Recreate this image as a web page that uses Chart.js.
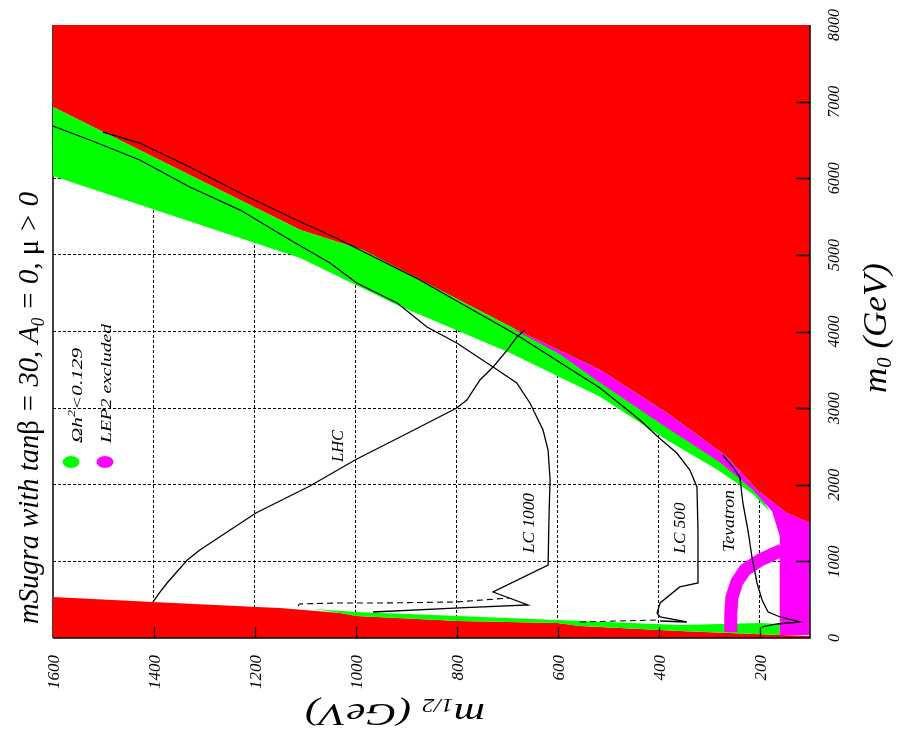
<!DOCTYPE html>
<html>
<head>
<meta charset="utf-8">
<script src="https://cdn.jsdelivr.net/npm/chart.js@4.4.0/dist/chart.umd.min.js"></script>
<style>
  html, body { margin: 0; padding: 0; background: #fff; }
  #wrap { width: 907px; height: 739px; }
</style>
</head>
<body>
<div id="wrap"><canvas id="plot" width="907" height="739"></canvas></div>
<script>
// axes: m1/2 (GeV) runs right-to-left along the bottom, m0 (GeV) up the right side
const xTickLabels = [1600, 1400, 1200, 1000, 800, 600, 400, 200];
const yTickLabels = [0, 1000, 2000, 3000, 4000, 5000, 6000, 7000, 8000];
const xGridLines = [1400, 1200, 1000, 800, 600, 400, 200];
const yGridLines = [1000, 2000, 3000, 4000, 5000, 6000, 7000];

// all curves below are [m1/2, m0] pairs in GeV
// no EWSB region edge (red, upper)
const noEwsbEdge = [[1600, 6930], [1110, 5324], [986, 5063], [681, 4019], [516, 3497],
  [383, 2936], [264, 2362], [205, 1931], [146, 1631], [100, 1500]];
// stau LSP region edge (red, lower)
const stauEdge = [[1600, 535], [1402, 470], [1196, 405], [1150, 392], [1031, 326], [998, 287],
  [797, 222], [600, 196], [556, 157], [358, 91], [160, 39], [100, 26]];
// lower edge of the Ωh² band along the focus-point region
const relicLowerEdge = [[1600, 6029], [1110, 4959], [918, 4346], [694, 3719], [516, 3150],
  [383, 2580], [284, 2200], [213, 1880], [179, 1640]];
// upper edge of the Ωh² strip above the stau region
const relicStripTop = [[1085, 378], [998, 339], [797, 287], [600, 235], [358, 170], [199, 196], [160, 183]];
// inner edge of the LEP2 excluded band
const lepInnerEdge = [[688, 4030], [595, 3700], [516, 3330], [383, 2740], [278, 2290],
  [213, 1930], [175, 1650], [160, 1330], [160, 39]];
// LEP2 chargino arc
const lepArc = [[156, 1148], [199, 1018], [229, 887], [245, 731], [255, 522], [257, 300], [257, 78]];

// reach contours
const lhcReach = [[1402, 470], [1388, 600], [1374, 718], [1334, 1018], [1309, 1148], [1198, 1631],
  [1091, 1984], [998, 2336], [912, 2623], [800, 3002], [780, 3106], [754, 3367], [728, 3537],
  [700, 3758], [681, 3928], [665, 4019]];
const lc1000Reach = [[1600, 6682], [1527, 6499], [1428, 6238], [1329, 5886], [1229, 5585],
  [1130, 5194], [1051, 4894], [998, 4633], [918, 4372], [859, 4059], [800, 3850], [728, 3537],
  [681, 3328], [655, 3067], [629, 2714], [619, 2453], [615, 2062], [617, 1631], [619, 953],
  [728, 600], [659, 431], [794, 392], [966, 339]];
const lc1000Dashed = [[1114, 418], [1112, 444], [1033, 457], [947, 457], [802, 470], [723, 509], [695, 522]];
const lc500Reach = [[1501, 6603], [1428, 6460], [1329, 6147], [1229, 5807], [1130, 5494],
  [1031, 5194], [873, 4672], [681, 3954], [516, 3263], [437, 2845], [401, 2623], [364, 2414],
  [338, 2192], [324, 1971], [322, 1409], [322, 718], [358, 666], [397, 457], [403, 326],
  [397, 274], [344, 209], [397, 222]];
const lc500Dashed = [[556, 209], [403, 235]];
const tevatronReach = [[273, 2388], [253, 2232], [239, 2101], [233, 1762], [223, 1409], [215, 1057],
  [205, 718], [195, 496], [183, 339], [159, 274], [120, 209], [165, 183], [195, 144]];

const RED = '#ff0000', GREEN = '#00ff00', MAGENTA = '#ff00ff';
const SERIF = '"Liberation Serif", "DejaVu Serif", serif';

const pts = arr => arr.map(p => ({ x: p[0], y: p[1] }));

// closed polygons built from the edges
const relicBand = noEwsbEdge.filter(p => p[0] >= 200).concat(relicLowerEdge.slice().reverse());
const relicStrip = relicStripTop.concat(stauEdge.filter(p => p[0] <= 1085 && p[0] >= 160).reverse());
relicStrip.push(relicStripTop[0]);
const lepRegion = [[688, 4030]].concat(noEwsbEdge.filter(p => p[0] < 688))
  .concat([[100, 39]]).concat(lepInnerEdge.slice().reverse());

function curve(data, extra) {
  return Object.assign({
    data: pts(data), borderColor: '#000', borderWidth: 1.3, pointRadius: 0,
    fill: false, tension: 0
  }, extra || {});
}
function area(data, color, fill) {
  return {
    data: pts(data), borderColor: 'transparent', borderWidth: 0, backgroundColor: color,
    pointRadius: 0, fill: fill, tension: 0
  };
}

// draws mixed italic / upright / sub- and superscript text along a rotated baseline
function richText(ctx, parts, x, y, angle, align, len) {
  ctx.save();
  ctx.translate(x, y);
  ctx.rotate(angle);
  let total = 0;
  parts.forEach(p => {
    ctx.font = (p.up ? '' : 'italic ') + p.size + 'px ' + SERIF;
    p.w = ctx.measureText(p.t).width;
    total += p.w;
  });
  if (len) ctx.scale(len / total, 1);
  let cx = align === 'center' ? -total / 2 : (align === 'right' ? -total : 0);
  ctx.textBaseline = 'middle';
  ctx.textAlign = 'left';
  ctx.fillStyle = '#000';
  parts.forEach(p => {
    ctx.font = (p.up ? '' : 'italic ') + p.size + 'px ' + SERIF;
    ctx.fillText(p.t, cx, p.dy || 0);
    cx += p.w;
  });
  ctx.restore();
}

const framePlugin = {
  id: 'frame',
  beforeDatasetsDraw(chart) {
    const { ctx, chartArea: a } = chart;
    ctx.save();
    ctx.strokeStyle = '#000';
    ctx.lineWidth = 1.5;
    ctx.beginPath();
    ctx.moveTo(a.left, a.top);
    ctx.lineTo(a.left, a.bottom);
    ctx.stroke();
    ctx.restore();
  },
  afterDraw(chart) {
    const { ctx, chartArea: a, scales } = chart;
    const xs = scales.x, ys = scales.y;
    ctx.save();
    ctx.strokeStyle = '#000';
    ctx.lineWidth = 1.5;
    ctx.beginPath();
    ctx.moveTo(a.left, a.bottom);
    ctx.lineTo(a.right, a.bottom);
    ctx.lineTo(a.right, a.top);
    ctx.stroke();
    // inward tick marks
    ctx.lineWidth = 1.3;
    ctx.beginPath();
    xGridLines.forEach(v => {
      const px = Math.round(xs.getPixelForValue(v)) + 0.5;
      ctx.moveTo(px, a.bottom);
      ctx.lineTo(px, a.bottom - 11);
    });
    yGridLines.forEach(v => {
      const py = Math.round(ys.getPixelForValue(v)) + 0.5;
      ctx.moveTo(a.right, py);
      ctx.lineTo(a.right - 14, py);
    });
    ctx.stroke();
    ctx.restore();

    const up = -Math.PI / 2;
    xTickLabels.forEach(v => {
      richText(ctx, [{ t: String(v), size: 17 }], xs.getPixelForValue(v) + 2, a.bottom + 17, up, 'right');
    });
    yTickLabels.forEach(v => {
      richText(ctx, [{ t: String(v), size: 16 }], a.right + 25, ys.getPixelForValue(v), up, 'center');
    });

    // axis titles
    richText(ctx, [{ t: 'm', size: 34 }, { t: '0', size: 20, dy: 9 }, { t: ' (GeV)', size: 34 }],
      877, 328, up, 'center', 130);
    richText(ctx, [{ t: 'm', size: 32 }, { t: '1/2', size: 18, dy: 8 }, { t: ' (GeV)', size: 32 }],
      395, 712, Math.PI, 'center', 180);

    // plot title
    richText(ctx, [
      { t: 'mSugra with tan', size: 30 }, { t: 'β', size: 30, up: true },
      { t: ' = 30, A', size: 30 }, { t: '0', size: 18, dy: 9 },
      { t: ' = 0, ', size: 30 }, { t: 'μ', size: 30, up: true }, { t: ' > 0', size: 30 }
    ], 30, 408, up, 'center', 432);

    // legend
    ctx.save();
    ctx.fillStyle = GREEN;
    ctx.beginPath(); ctx.ellipse(71, 462, 8.5, 6, 0, 0, Math.PI * 2); ctx.fill();
    ctx.fillStyle = MAGENTA;
    ctx.beginPath(); ctx.ellipse(105, 462, 8.5, 6, 0, 0, Math.PI * 2); ctx.fill();
    ctx.restore();
    richText(ctx, [{ t: 'Ωh', size: 15 }, { t: '2', size: 10, dy: -6 }, { t: '<0.129', size: 15 }],
      78, 443, up, 'left', 95);
    richText(ctx, [{ t: 'LEP2 excluded', size: 15 }], 107, 443, up, 'left', 119);

    // curve labels
    richText(ctx, [{ t: 'LHC', size: 17 }], 339, 446, up, 'center', 32);
    richText(ctx, [{ t: 'LC 1000', size: 17 }], 530, 523, up, 'center', 60);
    richText(ctx, [{ t: 'LC 500', size: 17 }], 681, 528, up, 'center', 51);
    richText(ctx, [{ t: 'Tevatron', size: 17 }], 730, 521, up, 'center', 62);
  }
};

new Chart(document.getElementById('plot'), {
  type: 'line',
  data: {
    datasets: [
      curve(lhcReach),
      curve(lc1000Reach),
      curve(lc1000Dashed, { borderDash: [6, 4], borderWidth: 1.1 }),
      curve(lc500Reach),
      curve(lc500Dashed, { borderDash: [6, 4], borderWidth: 1.1 }),
      curve(tevatronReach),
      curve(lepArc, { borderColor: MAGENTA, borderWidth: 13, borderCapStyle: 'butt' }),
      area(lepRegion, MAGENTA, 'shape'),
      area(relicBand, GREEN, 'shape'),
      area(relicStrip, GREEN, 'shape'),
      area(noEwsbEdge, RED, 'end'),
      area(stauEdge, RED, 'start')
    ]
  },
  options: {
    responsive: false,
    animation: false,
    events: [],
    layout: { padding: { left: 53, right: 97, top: 25, bottom: 101 } },
    plugins: { legend: { display: false }, tooltip: { enabled: false } },
    scales: {
      x: {
        type: 'linear', reverse: true, min: 100, max: 1600,
        afterBuildTicks: s => { s.ticks = xGridLines.map(v => ({ value: v })); },
        ticks: { display: false },
        grid: { color: '#000', lineWidth: 1, drawTicks: false },
        border: { display: false, dash: [3, 2] }
      },
      y: {
        type: 'linear', position: 'right', min: 0, max: 8000,
        afterBuildTicks: s => { s.ticks = yGridLines.map(v => ({ value: v })); },
        ticks: { display: false },
        grid: { color: '#000', lineWidth: 1, drawTicks: false },
        border: { display: false, dash: [3, 2] }
      }
    }
  },
  plugins: [framePlugin]
});
</script>
</body>
</html>
